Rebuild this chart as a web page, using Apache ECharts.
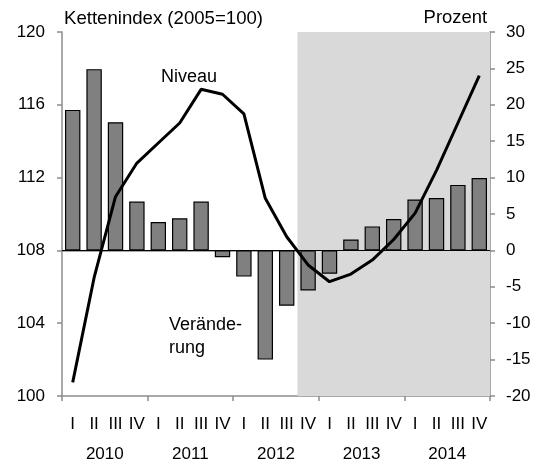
<!DOCTYPE html>
<html>
<head>
<meta charset="utf-8">
<script src="https://cdn.jsdelivr.net/npm/echarts@6/dist/echarts.min.js"></script>
<style>
  body { margin: 0; background: #fff; }
  #chart { width: 540px; height: 468px; }
</style>
</head>
<body>
<div id="chart"></div>
<script>
// quarters 2010 I .. 2014 IV
var quarters = ['I', 'II', 'III', 'IV', 'I', 'II', 'III', 'IV', 'I', 'II', 'III', 'IV',
                'I', 'II', 'III', 'IV', 'I', 'II', 'III', 'IV'];
var years = ['2010', '2011', '2012', '2013', '2014'];
// Niveau, Kettenindex (2005=100), linke Achse
var niveau = [100.75, 106.5, 110.95, 112.8, 113.9, 115.0, 116.85, 116.58, 115.5, 110.86,
              108.75, 107.2, 106.28, 106.7, 107.47, 108.6, 110.05, 112.4, 115.0, 117.6];
// Veränderung in Prozent, rechte Achse
var veraenderung = [19.3, 24.9, 17.6, 6.7, 3.9, 4.4, 6.7, -0.95, -3.6, -15.0,
                    -7.6, -5.5, -3.2, 1.5, 3.3, 4.3, 7.0, 7.2, 9.0, 9.95];
// Prognosezeitraum: ab 2012 IV (Index 11) bis Ende
var shadeFrom = 11, shadeTo = 20;

var font = 'Liberation Sans, Arial, sans-serif';
var axisGray = '#8c8c8c';

var chart = echarts.init(document.getElementById('chart'));
var option = {
  animation: false,
  textStyle: { fontFamily: font },
  grid: { left: 62, right: 50, top: 32, bottom: 72 },
  xAxis: [
    {
      type: 'category',
      data: quarters,
      position: 'bottom',
      axisLine: { lineStyle: { color: axisGray, width: 1.5 } },
      axisTick: { show: false },
      axisLabel: { color: '#000', fontSize: 17, margin: 20, interval: 0 }
    },
    {
      type: 'category',
      data: years,
      position: 'bottom',
      axisLine: { lineStyle: { color: axisGray, width: 1.5 } },
      axisTick: { show: true, length: 5, lineStyle: { color: axisGray, width: 1.5 } },
      axisLabel: { color: '#000', fontSize: 17, margin: 50, interval: 0 }
    },
    {
      type: 'value',
      min: 0,
      max: 20,
      show: false
    }
  ],
  yAxis: [
    {
      type: 'value',
      min: 100,
      max: 120,
      interval: 4,
      position: 'left',
      axisLine: { show: true, lineStyle: { color: axisGray, width: 1.5 } },
      axisTick: { show: true, length: 5, lineStyle: { color: axisGray, width: 1.5 } },
      axisLabel: { color: '#000', fontSize: 17, margin: 17 },
      splitLine: { show: false }
    },
    {
      type: 'value',
      min: -20,
      max: 30,
      interval: 5,
      position: 'right',
      axisLine: { show: true, lineStyle: { color: axisGray, width: 1.5 } },
      axisTick: { show: true, length: 5, lineStyle: { color: axisGray, width: 1.5 } },
      axisLabel: { color: '#000', fontSize: 17, margin: 16 },
      splitLine: { show: false }
    }
  ],
  graphic: [
    { type: 'text', left: 64, top: 9, style: { text: 'Kettenindex (2005=100)', font: '18.6px ' + font, fill: '#000' } },
    { type: 'text', right: 53, top: 9, style: { text: 'Prozent', font: '18.4px ' + font, fill: '#000' } },
    { type: 'text', left: 161, top: 68, style: { text: 'Niveau', font: '18px ' + font, fill: '#000' } },
    { type: 'text', right: 298, top: 314, style: { text: 'Verände-\nrung', font: '18px ' + font, fill: '#000', align: 'right', lineHeight: 23 } }
  ],
  series: [
    {
      name: 'Prognose',
      type: 'line',
      xAxisIndex: 2,
      yAxisIndex: 0,
      data: [],
      silent: true,
      markArea: {
        silent: true,
        itemStyle: { color: '#d9d9d9' },
        data: [[{ xAxis: shadeFrom }, { xAxis: shadeTo }]]
      }
    },
    {
      name: 'Veränderung',
      type: 'bar',
      xAxisIndex: 0,
      yAxisIndex: 1,
      barWidth: '72%',
      itemStyle: { color: '#808080', borderColor: '#000', borderWidth: 1.2 },
      data: veraenderung,
      markLine: {
        silent: true,
        symbol: 'none',
        label: { show: false },
        lineStyle: { color: '#000', type: 'solid', width: 1.2 },
        data: [{ yAxis: 0 }]
      }
    },
    {
      name: 'Niveau',
      type: 'line',
      xAxisIndex: 0,
      yAxisIndex: 0,
      data: niveau,
      symbol: 'none',
      lineStyle: { color: '#000', width: 3 },
      z: 5
    }
  ]
};
chart.setOption(option);
</script>
</body>
</html>
